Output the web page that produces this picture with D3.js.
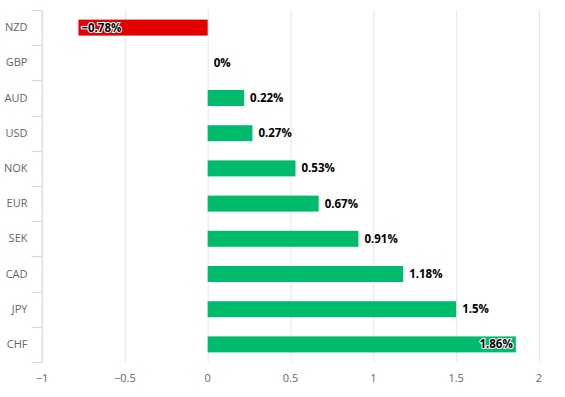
<!DOCTYPE html>
<html>
<head>
<meta charset="utf-8">
<script src="https://cdn.jsdelivr.net/npm/d3@7"></script>
<style>
  body { margin: 0; background: #fff; }
  text { font-family: "Open Sans", "DejaVu Sans", sans-serif; }
</style>
</head>
<body>
<script>
var currencies = ["NZD", "GBP", "AUD", "USD", "NOK", "EUR", "SEK", "CAD", "JPY", "CHF"];
var changes = [-0.78, 0, 0.22, 0.27, 0.53, 0.67, 0.91, 1.18, 1.5, 1.86];
var labels = ["\u22120.78%", "0%", "0.22%", "0.27%", "0.53%", "0.67%", "0.91%", "1.18%", "1.5%", "1.86%"];
var xTicks = [-1, -0.5, 0, 0.5, 1, 1.5, 2];

var width = 565, height = 397;
var margin = {top: 10, right: 26, bottom: 35, left: 42};

var svg = d3.select("body").append("svg")
    .attr("width", width)
    .attr("height", height);

var x = d3.scaleLinear().domain([-1, 2]).range([margin.left, width - margin.right]);
var y = d3.scaleBand().domain(currencies).range([margin.top, height - margin.bottom]).paddingInner(0).paddingOuter(0);

// grid lines
svg.append("g")
    .selectAll("line")
    .data(xTicks)
    .enter().append("line")
    .attr("x1", function(d) { return x(d) + 0.5; })
    .attr("x2", function(d) { return x(d) + 0.5; })
    .attr("y1", margin.top)
    .attr("y2", height - margin.bottom)
    .attr("stroke", "#e6e6e6");

// x tick labels
svg.append("g")
    .selectAll("text")
    .data(xTicks)
    .enter().append("text")
    .attr("x", function(d) { return x(d); })
    .attr("y", height - margin.bottom + 20)
    .attr("text-anchor", "middle")
    .attr("fill", "#666")
    .style("font-size", "11px")
    .text(function(d) { return d < 0 ? "\u2212" + Math.abs(d) : d; });

// y axis
var yAxis = d3.axisLeft(y).tickSize(10).tickPadding(4).tickSizeOuter(10);
var gy = svg.append("g")
    .attr("transform", "translate(" + (margin.left - 0.5) + ",0)")
    .call(yAxis);
gy.select(".domain").attr("stroke", "#ccd6eb");
gy.selectAll(".tick line").remove();
gy.selectAll(".tick text")
    .attr("fill", "#666")
    .style("font-size", "11px")
    .style("font-family", "'Open Sans', 'DejaVu Sans', sans-serif");

// category boundary ticks
var bounds = currencies.map(function(c) { return y(c); }).concat([y.range()[1]]);
gy.selectAll(".bound")
    .data(bounds)
    .enter().append("line")
    .attr("class", "bound")
    .attr("x1", -10).attr("x2", 0)
    .attr("y1", function(d) { return Math.round(d) + 0.5; })
    .attr("y2", function(d) { return Math.round(d) + 0.5; })
    .attr("stroke", "#ccd6eb");

var data = currencies.map(function(c, i) { return {c: c, v: changes[i], l: labels[i]}; });
var barH = 16;

svg.append("g")
    .selectAll("rect")
    .data(data)
    .enter().append("rect")
    .attr("x", function(d) { return x(Math.min(0, d.v)); })
    .attr("width", function(d) { return Math.abs(x(d.v) - x(0)); })
    .attr("y", function(d) { return y(d.c) + y.bandwidth() / 2 - barH / 2; })
    .attr("height", barH)
    .attr("fill", function(d) { return d.v < 0 ? "#e30000" : "#00bb6b"; });

svg.append("g")
    .selectAll("text")
    .data(data)
    .enter().append("text")
    .attr("x", function(d) {
        if (d.v < 0) return x(d.v) + 3;
        if (d.v > 1.7) return x(d.v) - 3;
        return x(d.v) + 6;
    })
    .attr("y", function(d) { return y(d.c) + y.bandwidth() / 2 + 4; })
    .attr("text-anchor", function(d) { return d.v > 1.7 ? "end" : "start"; })
    .attr("fill", "#000")
    .attr("stroke", "#fff")
    .attr("stroke-width", 2)
    .attr("paint-order", "stroke")
    .style("font-size", "11.5px")
    .style("font-weight", "bold")
    .text(function(d) { return d.l; });
</script>
</body>
</html>
